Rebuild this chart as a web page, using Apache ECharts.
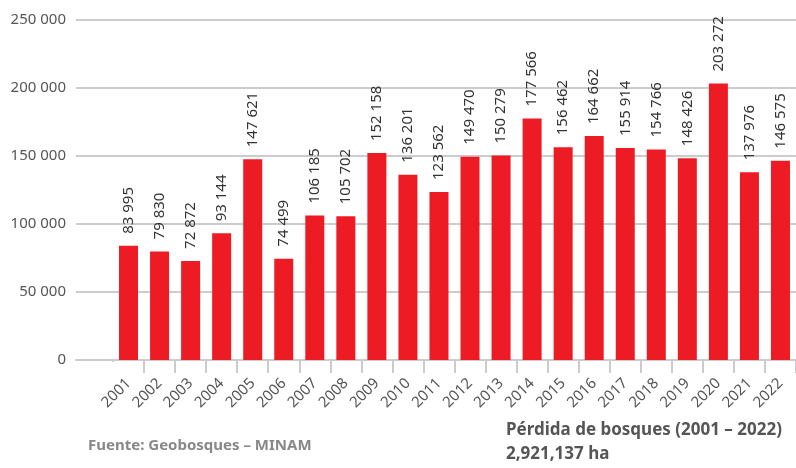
<!DOCTYPE html>
<html><head><meta charset="utf-8">
<script src="https://cdn.jsdelivr.net/npm/echarts@6/dist/echarts.min.js"></script>
<style>html,body{margin:0;padding:0;background:#fff}#c{width:796px;height:468px}</style>
</head><body><div id="c"></div>
<script>
const years = ['2001','2002','2003','2004','2005','2006','2007','2008','2009','2010','2011','2012','2013','2014','2015','2016','2017','2018','2019','2020','2021','2022'];
const loss = [83995,79830,72872,93144,147621,74499,106185,105702,152158,136201,123562,149470,150279,177566,156462,164662,155914,154766,148426,203272,137976,146575];
const yTicks = [0,50000,100000,150000,200000,250000];
const sourceText = 'Fuente: Geobosques – MINAM';
const titleText = 'Pérdida de bosques (2001 – 2022)';
const totalText = '2,921,137 ha';

const fmt = v => String(v).replace(/\B(?=(\d{3})+(?!\d))/g, ' ');
const FONT = 'Noto Sans';
const chart = echarts.init(document.getElementById('c'), null, {renderer:'canvas'});
chart.setOption({
  animation:false,
  textStyle:{fontFamily:FONT},
  grid:[
    {left:76, right:0, top:20, bottom:108, containLabel:false},
    {left:113, right:-10, top:20, bottom:108, containLabel:false}
  ],
  xAxis:[
    {gridIndex:0, type:'category', data:[''], axisLabel:{show:false}, axisTick:{show:false},
     axisLine:{show:true, lineStyle:{color:'#cccccc', width:2}}},
    {gridIndex:1, type:'category', data:years, position:'bottom',
     axisLine:{show:true, lineStyle:{color:'#cccccc', width:2}},
     axisTick:{show:true, inside:false, length:13, alignWithLabel:false, lineStyle:{color:'#cccccc', width:2}},
     axisLabel:{show:true, rotate:45, margin:21, fontSize:15, color:'#555555', fontFamily:FONT, interval:0}}
  ],
  yAxis:[
    {gridIndex:0, type:'value', min:yTicks[0], max:yTicks[yTicks.length-1], interval:50000,
     axisLine:{show:false}, axisTick:{show:false},
     splitLine:{lineStyle:{color:'#cccccc', width:2}},
     axisLabel:{formatter:v=>fmt(v), fontSize:15, color:'#555555', margin:10, fontFamily:FONT}},
    {gridIndex:1, type:'value', min:yTicks[0], max:yTicks[yTicks.length-1], interval:50000,
     axisLine:{show:false}, axisTick:{show:false}, axisLabel:{show:false}, splitLine:{show:false}}
  ],
  series:[{
    type:'bar', xAxisIndex:1, yAxisIndex:1, data:loss, barWidth:19,
    itemStyle:{color:'#ED1C24'},
    label:{show:true, position:'top', rotate:90, align:'left', verticalAlign:'middle', distance:12,
      formatter:p=>fmt(p.value), fontSize:15, color:'#333333', fontFamily:FONT}
  }],
  graphic:[
    {type:'rect', left:109, top:362, shape:{width:8, height:16}, style:{fill:'#ffffff'}, z:100},
    {type:'text', left:88, top:438, style:{text:sourceText, font:'bold 15px "'+FONT+'"', fill:'#888888'}},
    {type:'text', left:506, top:422, style:{text:titleText, font:'bold 17px "'+FONT+'"', fill:'#555555'}},
    {type:'text', left:506, top:446, style:{text:totalText, font:'bold 17px "'+FONT+'"', fill:'#555555'}}
  ]
});
</script></body></html>
